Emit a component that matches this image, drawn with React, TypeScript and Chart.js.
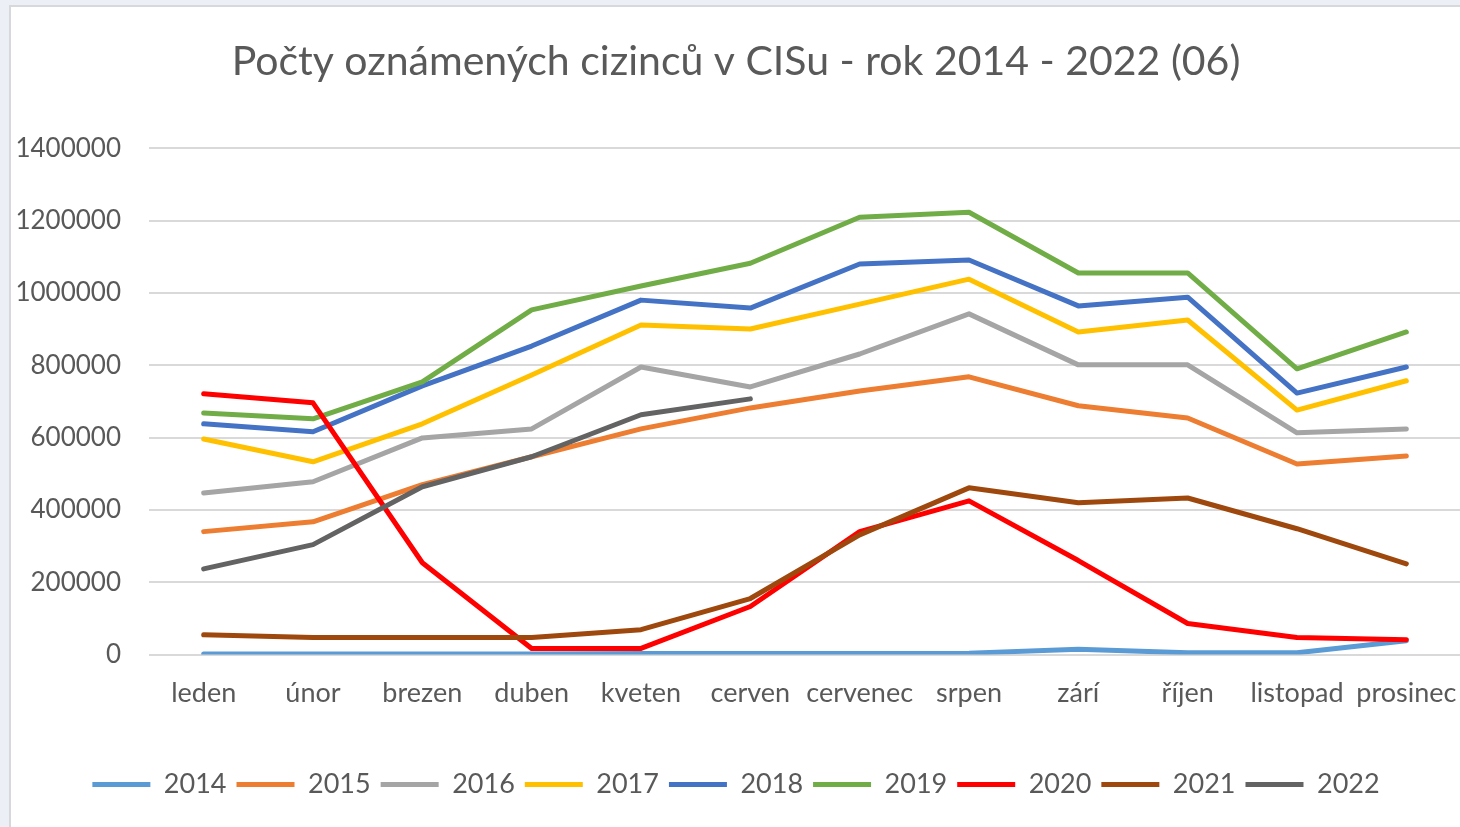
import React, { useEffect, useRef } from "react";
import { Chart, registerables } from "chart.js";

Chart.register(...registerables);

const TITLE = "Počty oznámených cizinců v CISu - rok 2014 - 2022 (06)";
const months = ["leden", "únor", "brezen", "duben", "kveten", "cerven", "cervenec", "srpen", "zárí", "říjen", "listopad", "prosinec"];
const yTicks = [0, 200000, 400000, 600000, 800000, 1000000, 1200000, 1400000];

const y2014 = [2000, 2000, 2000, 2000, 3000, 3000, 3000, 4000, 15000, 5000, 5000, 38000];
const y2015 = [340000, 367000, 470000, 547000, 624000, 682000, 729000, 768000, 688000, 654000, 527000, 549000];
const y2016 = [447000, 478000, 599000, 624000, 795000, 740000, 831000, 942000, 801000, 801000, 613000, 624000];
const y2017 = [596000, 533000, 638000, 773000, 911000, 900000, 969000, 1038000, 892000, 925000, 676000, 757000];
const y2018 = [638000, 616000, 743000, 853000, 980000, 958000, 1080000, 1091000, 964000, 988000, 723000, 795000];
const y2019 = [668000, 652000, 754000, 953000, 1019000, 1082000, 1209000, 1223000, 1055000, 1055000, 790000, 892000];
const y2020 = [721000, 696000, 254000, 17000, 17000, 133000, 340000, 425000, 260000, 86000, 47000, 41000];
const y2021 = [55000, 47000, 47000, 47000, 69000, 155000, 331000, 461000, 420000, 433000, 348000, 251000];
const y2022 = [237000, 304000, 464000, 547000, 663000, 707000];

const seriesNames = ["2014", "2015", "2016", "2017", "2018", "2019", "2020", "2021", "2022"];
const seriesValues = [y2014, y2015, y2016, y2017, y2018, y2019, y2020, y2021, y2022];
const seriesColors = ["#5b9bd5", "#ed7d31", "#a5a5a5", "#ffc000", "#4472c4", "#70ad47", "#ff0000", "#9e480e", "#636363"];

const FONT = "Lato, 'Open Sans', sans-serif";
const TEXT = "#595959";

export default function App() {
  const ref = useRef<HTMLCanvasElement | null>(null);
  useEffect(() => {
    document.body.style.margin = "0";
    document.body.style.overflow = "hidden";
    const n = seriesNames.length;
    const chart = new Chart(ref.current!, {
      type: "line",
      data: {
        labels: months,
        datasets: seriesNames.map((name, i) => ({
          label: name,
          data: seriesValues[i],
          borderColor: seriesColors[i],
          backgroundColor: seriesColors[i],
          borderWidth: 5,
          borderCapStyle: "round" as const,
          borderJoinStyle: "round" as const,
          pointRadius: 0,
          pointHoverRadius: 0,
          tension: 0,
          fill: false,
          order: n - i,
        })),
      },
      options: {
        animation: false,
        responsive: false,
        maintainAspectRatio: false,
        layout: { padding: { top: 30, bottom: 20, left: 0, right: 0 } },
        plugins: {
          title: {
            display: true,
            text: TITLE,
            color: TEXT,
            font: { family: FONT, size: 41, weight: "normal" },
            padding: { top: 0, bottom: 62 },
          },
          legend: {
            position: "bottom",
            labels: {
              color: TEXT,
              font: { family: FONT, size: 27 },
              usePointStyle: true,
              pointStyle: "line",
              pointStyleWidth: 58,
              boxHeight: 27,
              padding: 10,
              sort: (a: any, b: any) => a.datasetIndex - b.datasetIndex,
            },
          },
          tooltip: { enabled: false },
        },
        scales: {
          x: {
            offset: true,
            afterFit: (s: any) => { s.height += 30; s.paddingLeft = 0; s.paddingRight = 0; },
            grid: { display: false, drawTicks: false },
            border: { display: false },
            ticks: { color: TEXT, font: { family: FONT, size: 27 }, padding: 22, maxRotation: 0, autoSkip: false },
          },
          y: {
            min: 0,
            max: 1400000,
            afterBuildTicks: (s: any) => { s.ticks = yTicks.map((v) => ({ value: v })); },
            afterFit: (s: any) => { s.width = 138; },
            grid: { color: "#d9d9d9", lineWidth: 2, drawTicks: false },
            border: { display: false },
            ticks: { color: TEXT, font: { family: FONT, size: 26 }, padding: 28, callback: (v: any) => String(v) },
          },
        },
      },
    });
    return () => chart.destroy();
  }, []);
  return (
    <div style={{ position: "fixed", left: 0, top: 0, width: 1460, height: 827, background: "#eceff5", overflow: "hidden" }}>
      <div style={{ position: "absolute", left: 9, top: 5, width: 1460, height: 830, background: "#ffffff", borderLeft: "2px solid #d6d8dc", borderTop: "2px solid #d6d8dc" }}>
        <canvas ref={ref} width={1450} height={821} style={{ display: "block" }} />
      </div>
    </div>
  );
}
